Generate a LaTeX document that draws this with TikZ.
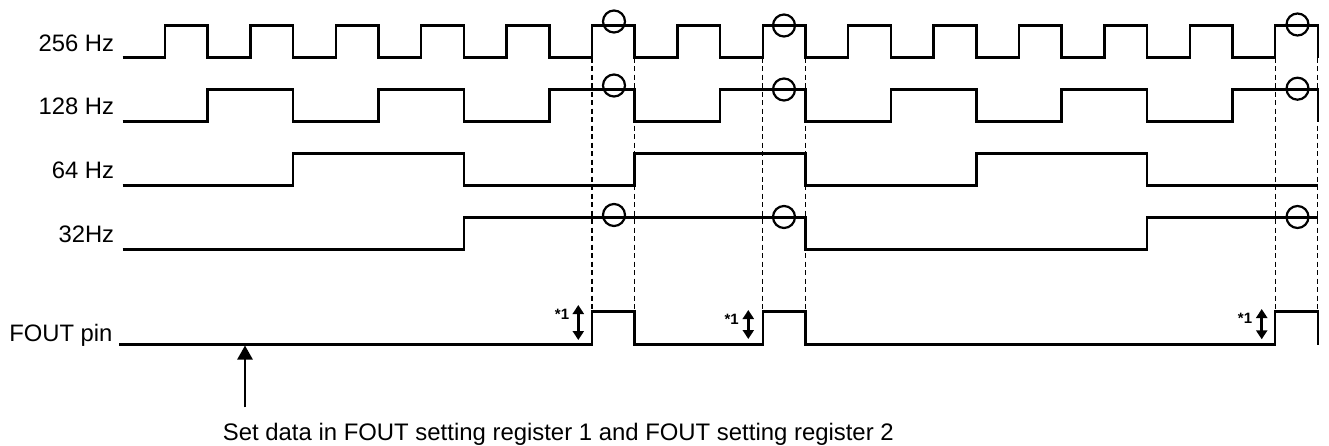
\documentclass[tikz,border=0pt]{standalone}
\usepackage{fontspec}
\setmainfont{Liberation Sans}
\usetikzlibrary{arrows.meta}
\begin{document}
\begin{tikzpicture}[x=1pt,y=-1pt,
  sig/.style={line width=2.5pt,line join=miter,line cap=butt},
  guide/.style={line width=1.1pt,dash pattern=on 5pt off 3.5pt},
  ring/.style={line width=2.2pt},
  lbl/.style={font=\fontsize{23.8}{28}\selectfont,anchor=base east,inner sep=0pt},
  note/.style={font=\fontsize{15}{17}\bfseries\selectfont,inner sep=0pt},
  dbl/.style={line width=2.6pt,{Triangle[width=11pt,length=9pt]}-{Triangle[width=11pt,length=9pt]}},
  up/.style={line width=2.5pt,-{Triangle[width=15pt,length=14pt]}}]
\useasboundingbox (0,0) rectangle (1329,446);
% labels
\node[lbl] (l256) at (114.3,51.5) {256 Hz};
\node[lbl] (l128) at (114.3,115) {128 Hz};
\node[lbl] (l64) at (114.3,179) {64 Hz};
\node[lbl] (l32) at (114.3,242.8) {32Hz};
\node[lbl] (lfout) at (112.7,341.5) {FOUT pin};
% 256 Hz
\draw[sig] (122.7,57.7) foreach \k in {0,...,27} { -| ({165+42.7*\k},{mod(\k,2)==0 ? 25.3 : 57.7}) };
% 128 Hz
\draw[sig] (122.7,121.7) foreach \j in {0,...,13} { -| ({165+42.7*(2*\j+1)},{mod(\j,2)==0 ? 89.3 : 121.7}) };
% 64 Hz
\draw[sig] (122.7,185.7) foreach \j in {0,...,5} { -| ({165+42.7*(4*\j+3)},{mod(\j,2)==0 ? 153.3 : 185.7}) } -- (1317.9,185.7);
% 32 Hz
\draw[sig] (122.7,249.3) foreach \j in {0,...,2} { -| ({165+42.7*(8*\j+7)},{mod(\j,2)==0 ? 217.7 : 249.3}) } -- (1317.9,217.7);
% FOUT
\draw[sig] (119.3,344.5) -| (592,311.7) -| (634.7,344.5) -| (762.8,311.7) -| (805.5,344.5) -| (1275.2,311.7) -| (1317.9,344.5);
% dashed guides
\foreach \x in {592,634.7,762.8,805.5,1275.2,1317.9} {
  \draw[guide] (\x,57.7) -- (\x,311.7);
}
% circles
\foreach \x/\a/\b/\c in {614/21.5/85.5/215, 784/25.5/89.5/217, 1297.5/24.5/88.7/217} {
  \draw[ring] (\x,\a) circle[radius=11];
  \draw[ring] (\x,\b) circle[radius=11];
  \draw[ring] (\x,\c) circle[radius=11];
}
% *1 double arrows
\coordinate (a1t) at (578.3,305); \coordinate (a1b) at (578.3,340);
\coordinate (a2t) at (748.3,310); \coordinate (a2b) at (748.3,339);
\coordinate (a3t) at (1261.7,309); \coordinate (a3b) at (1261.7,339.3);
\draw[dbl] (a1t) -- (a1b);
\draw[dbl] (a2t) -- (a2b);
\draw[dbl] (a3t) -- (a3b);
\node[note] (n1) at (562,314) {*1};
\node[note] (n2) at (731.7,319.5) {*1};
\node[note] (n3) at (1245,318) {*1};
% set data arrow
\coordinate (setfoot) at (245,407.3);
\coordinate (settip) at (245,345.5);
\draw[up] (setfoot) -- (settip);
\node[font=\fontsize{23.9}{28}\selectfont,anchor=base west,inner sep=0pt] (setdata) at (222.7,440) {Set data in FOUT setting register 1 and FOUT setting register 2};
\end{tikzpicture}
\end{document}
